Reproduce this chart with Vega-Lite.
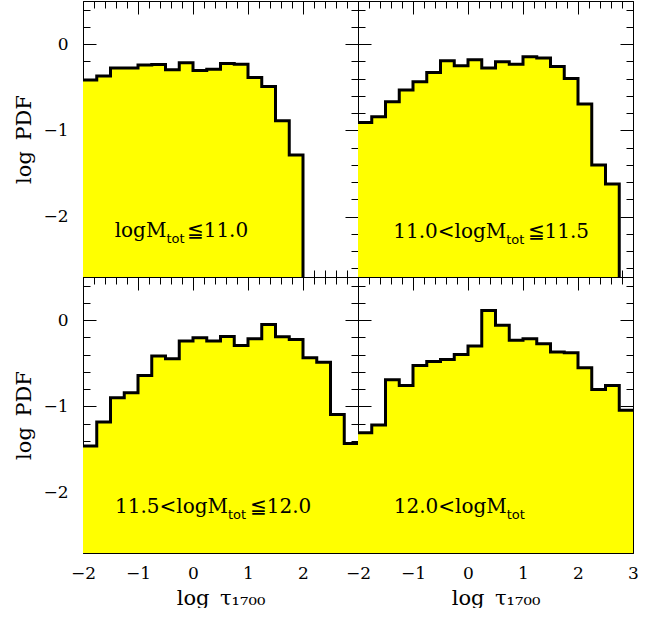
{
  "$schema": "https://vega.github.io/schema/vega-lite/v6.json",
  "autosize": {"type": "pad"},
  "padding": {"left": 13, "top": 0, "right": 0, "bottom": 0},
  "config": {
    "view": {"stroke": null},
    "axis": {
      "minExtent": 0, "zindex": 1, "grid": false, "domain": false,
      "labelFont": "DejaVu Serif", "labelFontSize": 17, "labelColor": "#000",
      "titleFont": "DejaVu Serif", "titleFontSize": 21, "titleFontWeight": "normal", "titleColor": "#000",
      "tickColor": "#000", "domainColor": "#000", "tickWidth": 1, "domainWidth": 1,
      "labelFlush": false, "labelOverlap": false, "labelBound": false
    }
  },
  "datasets": {
    "hist": [
      {"panel": "a", "x": -2, "y": -0.417}, {"panel": "a", "x": -1.75, "y": -0.37}, {"panel": "a", "x": -1.5, "y": -0.278}, {"panel": "a", "x": -1.25, "y": -0.278},
      {"panel": "a", "x": -1, "y": -0.243}, {"panel": "a", "x": -0.75, "y": -0.236}, {"panel": "a", "x": -0.5, "y": -0.298}, {"panel": "a", "x": -0.25, "y": -0.217},
      {"panel": "a", "x": 0, "y": -0.305}, {"panel": "a", "x": 0.25, "y": -0.29}, {"panel": "a", "x": 0.5, "y": -0.226}, {"panel": "a", "x": 0.75, "y": -0.233},
      {"panel": "a", "x": 1, "y": -0.387}, {"panel": "a", "x": 1.25, "y": -0.49}, {"panel": "a", "x": 1.5, "y": -0.889}, {"panel": "a", "x": 1.75, "y": -1.286},
      {"panel": "a", "x": 2, "y": -3},
      {"panel": "b", "x": -2, "y": -0.908}, {"panel": "b", "x": -1.75, "y": -0.842}, {"panel": "b", "x": -1.5, "y": -0.669}, {"panel": "b", "x": -1.25, "y": -0.533},
      {"panel": "b", "x": -1, "y": -0.437}, {"panel": "b", "x": -0.75, "y": -0.329}, {"panel": "b", "x": -0.5, "y": -0.193}, {"panel": "b", "x": -0.25, "y": -0.251},
      {"panel": "b", "x": 0, "y": -0.182}, {"panel": "b", "x": 0.25, "y": -0.278}, {"panel": "b", "x": 0.5, "y": -0.205}, {"panel": "b", "x": 0.75, "y": -0.232},
      {"panel": "b", "x": 1, "y": -0.147}, {"panel": "b", "x": 1.25, "y": -0.162}, {"panel": "b", "x": 1.5, "y": -0.259}, {"panel": "b", "x": 1.75, "y": -0.398},
      {"panel": "b", "x": 2, "y": -0.695}, {"panel": "b", "x": 2.25, "y": -1.402}, {"panel": "b", "x": 2.5, "y": -1.622}, {"panel": "b", "x": 2.75, "y": -3},
      {"panel": "c", "x": -2, "y": -1.46}, {"panel": "c", "x": -1.75, "y": -1.182}, {"panel": "c", "x": -1.5, "y": -0.9}, {"panel": "c", "x": -1.25, "y": -0.842},
      {"panel": "c", "x": -1, "y": -0.641}, {"panel": "c", "x": -0.75, "y": -0.417}, {"panel": "c", "x": -0.5, "y": -0.448}, {"panel": "c", "x": -0.25, "y": -0.243},
      {"panel": "c", "x": 0, "y": -0.205}, {"panel": "c", "x": 0.25, "y": -0.243}, {"panel": "c", "x": 0.5, "y": -0.189}, {"panel": "c", "x": 0.75, "y": -0.293},
      {"panel": "c", "x": 1, "y": -0.216}, {"panel": "c", "x": 1.25, "y": -0.05}, {"panel": "c", "x": 1.5, "y": -0.193}, {"panel": "c", "x": 1.75, "y": -0.224},
      {"panel": "c", "x": 2, "y": -0.436}, {"panel": "c", "x": 2.25, "y": -0.487}, {"panel": "c", "x": 2.5, "y": -1.093}, {"panel": "c", "x": 2.75, "y": -1.429},
      {"panel": "c", "x": 3, "y": -1.429},
      {"panel": "d", "x": -2, "y": -1.306}, {"panel": "d", "x": -1.75, "y": -1.217}, {"panel": "d", "x": -1.5, "y": -0.691}, {"panel": "d", "x": -1.25, "y": -0.757},
      {"panel": "d", "x": -1, "y": -0.525}, {"panel": "d", "x": -0.75, "y": -0.479}, {"panel": "d", "x": -0.5, "y": -0.456}, {"panel": "d", "x": -0.25, "y": -0.398},
      {"panel": "d", "x": 0, "y": -0.301}, {"panel": "d", "x": 0.25, "y": 0.112}, {"panel": "d", "x": 0.5, "y": -0.058}, {"panel": "d", "x": 0.75, "y": -0.232},
      {"panel": "d", "x": 1, "y": -0.216}, {"panel": "d", "x": 1.25, "y": -0.274}, {"panel": "d", "x": 1.5, "y": -0.371}, {"panel": "d", "x": 1.75, "y": -0.378},
      {"panel": "d", "x": 2, "y": -0.552}, {"panel": "d", "x": 2.25, "y": -0.803}, {"panel": "d", "x": 2.5, "y": -0.757}, {"panel": "d", "x": 2.75, "y": -1.046},
      {"panel": "d", "x": 3, "y": -1.046}
    ],
    "notes": [
      {"panel": "a", "pre": "logM", "sub": "tot", "post": "≦11.0"},
      {"panel": "b", "pre": "11.0<logM", "sub": "tot", "post": "≦11.5"},
      {"panel": "c", "pre": "11.5<logM", "sub": "tot", "post": "≦12.0"},
      {"panel": "d", "pre": "12.0<logM", "sub": "tot", "post": ""}
    ]
  },
  "columns": 2,
  "spacing": 0,
  "bounds": "flush",
  "concat": [
    {
      "width": 275, "height": 276,
      "data": {"name": "hist"},
      "transform": [{"filter": "datum.panel == 'a'"}],
      "layer": [
        {"mark": {"type": "area", "interpolate": "step-after", "color": "#ffff00", "clip": true},
         "encoding": {
           "x": {"field": "x", "type": "quantitative", "scale": {"domain": [-2, 3], "nice": false, "zero": false}, "axis": null},
           "y": {"field": "y", "type": "quantitative", "scale": {"domain": [-2.7, 0.5], "nice": false, "zero": false},
                 "axis": {"orient": "left", "values": [0, -1, -2], "ticks": false, "labelPadding": 15, "title": "log\u2002PDF", "titlePadding": 8}},
           "y2": {"datum": -2.7}}},
        {"mark": {"type": "line", "interpolate": "step-after", "color": "#000", "strokeWidth": 3, "clip": true, "strokeJoin": "miter"},
         "encoding": {
           "x": {"field": "x", "type": "quantitative", "axis": {"orient": "bottom", "values": [-2, -1, 0, 1, 2, 3], "labels": false, "tickSize": -13, "domain": true, "title": null}},
           "y": {"field": "y", "type": "quantitative", "axis": {"orient": "left", "values": [0, -1, -2], "labels": false, "tickSize": -13, "domain": true, "title": null}}}},
        {"mark": {"type": "point", "opacity": 0, "clip": true},
         "encoding": {
           "x": {"field": "x", "type": "quantitative", "axis": {"orient": "bottom", "values": [-2,-1.8,-1.6,-1.4,-1.2,-1,-0.8,-0.6,-0.4,-0.2,0,0.2,0.4,0.6,0.8,1,1.2,1.4,1.6,1.8,2,2.2,2.4,2.6,2.8,3], "labels": false, "tickSize": -7, "title": null}},
           "y": {"field": "y", "type": "quantitative", "axis": {"orient": "left", "values": [0.4,0.2,0,-0.2,-0.4,-0.6,-0.8,-1,-1.2,-1.4,-1.6,-1.8,-2,-2.2,-2.4,-2.6], "labels": false, "tickSize": -7, "title": null}}}},
        {"mark": {"type": "point", "opacity": 0, "clip": true},
         "encoding": {
           "x": {"field": "x", "type": "quantitative", "axis": {"orient": "top", "values": [-2, -1, 0, 1, 2, 3], "labels": false, "tickSize": -13, "domain": true, "title": null}},
           "y": {"field": "y", "type": "quantitative", "axis": {"orient": "right", "values": [0, -1, -2], "labels": false, "tickSize": -13, "domain": true, "title": null}}}},
        {"mark": {"type": "point", "opacity": 0, "clip": true},
         "encoding": {
           "x": {"field": "x", "type": "quantitative", "axis": {"orient": "top", "values": [-2,-1.8,-1.6,-1.4,-1.2,-1,-0.8,-0.6,-0.4,-0.2,0,0.2,0.4,0.6,0.8,1,1.2,1.4,1.6,1.8,2,2.2,2.4,2.6,2.8,3], "labels": false, "tickSize": -7, "title": null}},
           "y": {"field": "y", "type": "quantitative", "axis": {"orient": "right", "values": [0.4,0.2,0,-0.2,-0.4,-0.6,-0.8,-1,-1.2,-1.4,-1.6,-1.8,-2,-2.2,-2.4,-2.6], "labels": false, "tickSize": -7, "title": null}}}},
        {"data": {"name": "notes"}, "transform": [{"filter": "datum.panel == 'a'"}],
         "mark": {"type": "text", "font": "DejaVu Serif", "fontSize": 20, "align": "right", "baseline": "alphabetic", "color": "#000"},
         "encoding": {"x": {"datum": -0.484, "axis": null}, "y": {"datum": -2.241, "axis": null}, "text": {"field": "pre"}}},
        {"data": {"name": "notes"}, "transform": [{"filter": "datum.panel == 'a'"}],
         "mark": {"type": "text", "font": "DejaVu Sans", "fontSize": 13, "align": "left", "baseline": "alphabetic", "color": "#000"},
         "encoding": {"x": {"datum": -0.484, "axis": null}, "y": {"datum": -2.306, "axis": null}, "text": {"field": "sub"}}},
        {"data": {"name": "notes"}, "transform": [{"filter": "datum.panel == 'a'"}],
         "mark": {"type": "text", "font": "DejaVu Serif", "fontSize": 20, "align": "left", "baseline": "alphabetic", "color": "#000"},
         "encoding": {"x": {"datum": -0.115, "axis": null}, "y": {"datum": -2.241, "axis": null}, "text": {"field": "post"}}}
      ],
      "resolve": {"axis": {"x": "independent", "y": "independent"}}
    },
    {
      "width": 275, "height": 276,
      "data": {"name": "hist"},
      "transform": [{"filter": "datum.panel == 'b'"}],
      "layer": [
        {"mark": {"type": "area", "interpolate": "step-after", "color": "#ffff00", "clip": true},
         "encoding": {
           "x": {"field": "x", "type": "quantitative", "scale": {"domain": [-2, 3], "nice": false, "zero": false}, "axis": null},
           "y": {"field": "y", "type": "quantitative", "scale": {"domain": [-2.7, 0.5], "nice": false, "zero": false}, "axis": null},
           "y2": {"datum": -2.7}}},
        {"mark": {"type": "line", "interpolate": "step-after", "color": "#000", "strokeWidth": 3, "clip": true, "strokeJoin": "miter"},
         "encoding": {
           "x": {"field": "x", "type": "quantitative", "axis": {"orient": "bottom", "values": [-2, -1, 0, 1, 2, 3], "labels": false, "tickSize": -13, "domain": true, "title": null}},
           "y": {"field": "y", "type": "quantitative", "axis": {"orient": "left", "values": [0, -1, -2], "labels": false, "tickSize": -13, "domain": true, "title": null}}}},
        {"mark": {"type": "point", "opacity": 0, "clip": true},
         "encoding": {
           "x": {"field": "x", "type": "quantitative", "axis": {"orient": "bottom", "values": [-2,-1.8,-1.6,-1.4,-1.2,-1,-0.8,-0.6,-0.4,-0.2,0,0.2,0.4,0.6,0.8,1,1.2,1.4,1.6,1.8,2,2.2,2.4,2.6,2.8,3], "labels": false, "tickSize": -7, "title": null}},
           "y": {"field": "y", "type": "quantitative", "axis": {"orient": "left", "values": [0.4,0.2,0,-0.2,-0.4,-0.6,-0.8,-1,-1.2,-1.4,-1.6,-1.8,-2,-2.2,-2.4,-2.6], "labels": false, "tickSize": -7, "title": null}}}},
        {"mark": {"type": "point", "opacity": 0, "clip": true},
         "encoding": {
           "x": {"field": "x", "type": "quantitative", "axis": {"orient": "top", "values": [-2, -1, 0, 1, 2, 3], "labels": false, "tickSize": -13, "domain": true, "title": null}},
           "y": {"field": "y", "type": "quantitative", "axis": {"orient": "right", "values": [0, -1, -2], "labels": false, "tickSize": -13, "domain": true, "title": null}}}},
        {"mark": {"type": "point", "opacity": 0, "clip": true},
         "encoding": {
           "x": {"field": "x", "type": "quantitative", "axis": {"orient": "top", "values": [-2,-1.8,-1.6,-1.4,-1.2,-1,-0.8,-0.6,-0.4,-0.2,0,0.2,0.4,0.6,0.8,1,1.2,1.4,1.6,1.8,2,2.2,2.4,2.6,2.8,3], "labels": false, "tickSize": -7, "title": null}},
           "y": {"field": "y", "type": "quantitative", "axis": {"orient": "right", "values": [0.4,0.2,0,-0.2,-0.4,-0.6,-0.8,-1,-1.2,-1.4,-1.6,-1.8,-2,-2.2,-2.4,-2.6], "labels": false, "tickSize": -7, "title": null}}}},
        {"data": {"name": "notes"}, "transform": [{"filter": "datum.panel == 'b'"}],
         "mark": {"type": "text", "font": "DejaVu Serif", "fontSize": 20, "align": "right", "baseline": "alphabetic", "color": "#000"},
         "encoding": {"x": {"datum": 0.695, "axis": null}, "y": {"datum": -2.25, "axis": null}, "text": {"field": "pre"}}},
        {"data": {"name": "notes"}, "transform": [{"filter": "datum.panel == 'b'"}],
         "mark": {"type": "text", "font": "DejaVu Sans", "fontSize": 13, "align": "left", "baseline": "alphabetic", "color": "#000"},
         "encoding": {"x": {"datum": 0.695, "axis": null}, "y": {"datum": -2.315, "axis": null}, "text": {"field": "sub"}}},
        {"data": {"name": "notes"}, "transform": [{"filter": "datum.panel == 'b'"}],
         "mark": {"type": "text", "font": "DejaVu Serif", "fontSize": 20, "align": "left", "baseline": "alphabetic", "color": "#000"},
         "encoding": {"x": {"datum": 1.082, "axis": null}, "y": {"datum": -2.25, "axis": null}, "text": {"field": "post"}}}
      ],
      "resolve": {"axis": {"x": "independent", "y": "independent"}}
    },
    {
      "width": 275, "height": 276,
      "data": {"name": "hist"},
      "transform": [{"filter": "datum.panel == 'c'"}],
      "layer": [
        {"mark": {"type": "area", "interpolate": "step-after", "color": "#ffff00", "clip": true},
         "encoding": {
           "x": {"field": "x", "type": "quantitative", "scale": {"domain": [-2, 3], "nice": false, "zero": false},
                 "axis": {"orient": "bottom", "values": [-2, -1, 0, 1, 2], "ticks": false, "labelPadding": 12, "title": "log\u2002τ₁₇₀₀", "titlePadding": 6}},
           "y": {"field": "y", "type": "quantitative", "scale": {"domain": [-2.7, 0.5], "nice": false, "zero": false},
                 "axis": {"orient": "left", "values": [0, -1, -2], "ticks": false, "labelPadding": 15, "title": "log\u2002PDF", "titlePadding": 8}},
           "y2": {"datum": -2.7}}},
        {"mark": {"type": "line", "interpolate": "step-after", "color": "#000", "strokeWidth": 3, "clip": true, "strokeJoin": "miter"},
         "encoding": {
           "x": {"field": "x", "type": "quantitative", "axis": {"orient": "bottom", "values": [-2, -1, 0, 1, 2, 3], "labels": false, "tickSize": -13, "domain": true, "title": null}},
           "y": {"field": "y", "type": "quantitative", "axis": {"orient": "left", "values": [0, -1, -2], "labels": false, "tickSize": -13, "domain": true, "title": null}}}},
        {"mark": {"type": "point", "opacity": 0, "clip": true},
         "encoding": {
           "x": {"field": "x", "type": "quantitative", "axis": {"orient": "bottom", "values": [-2,-1.8,-1.6,-1.4,-1.2,-1,-0.8,-0.6,-0.4,-0.2,0,0.2,0.4,0.6,0.8,1,1.2,1.4,1.6,1.8,2,2.2,2.4,2.6,2.8,3], "labels": false, "tickSize": -7, "title": null}},
           "y": {"field": "y", "type": "quantitative", "axis": {"orient": "left", "values": [0.4,0.2,0,-0.2,-0.4,-0.6,-0.8,-1,-1.2,-1.4,-1.6,-1.8,-2,-2.2,-2.4,-2.6], "labels": false, "tickSize": -7, "title": null}}}},
        {"mark": {"type": "point", "opacity": 0, "clip": true},
         "encoding": {
           "x": {"field": "x", "type": "quantitative", "axis": {"orient": "top", "values": [-2, -1, 0, 1, 2, 3], "labels": false, "tickSize": -13, "domain": true, "title": null}},
           "y": {"field": "y", "type": "quantitative", "axis": {"orient": "right", "values": [0, -1, -2], "labels": false, "tickSize": -13, "domain": true, "title": null}}}},
        {"mark": {"type": "point", "opacity": 0, "clip": true},
         "encoding": {
           "x": {"field": "x", "type": "quantitative", "axis": {"orient": "top", "values": [-2,-1.8,-1.6,-1.4,-1.2,-1,-0.8,-0.6,-0.4,-0.2,0,0.2,0.4,0.6,0.8,1,1.2,1.4,1.6,1.8,2,2.2,2.4,2.6,2.8,3], "labels": false, "tickSize": -7, "title": null}},
           "y": {"field": "y", "type": "quantitative", "axis": {"orient": "right", "values": [0.4,0.2,0,-0.2,-0.4,-0.6,-0.8,-1,-1.2,-1.4,-1.6,-1.8,-2,-2.2,-2.4,-2.6], "labels": false, "tickSize": -7, "title": null}}}},
        {"data": {"name": "notes"}, "transform": [{"filter": "datum.panel == 'c'"}],
         "mark": {"type": "text", "font": "DejaVu Serif", "fontSize": 20, "align": "right", "baseline": "alphabetic", "color": "#000"},
         "encoding": {"x": {"datum": 0.636, "axis": null}, "y": {"datum": -2.236, "axis": null}, "text": {"field": "pre"}}},
        {"data": {"name": "notes"}, "transform": [{"filter": "datum.panel == 'c'"}],
         "mark": {"type": "text", "font": "DejaVu Sans", "fontSize": 13, "align": "left", "baseline": "alphabetic", "color": "#000"},
         "encoding": {"x": {"datum": 0.636, "axis": null}, "y": {"datum": -2.301, "axis": null}, "text": {"field": "sub"}}},
        {"data": {"name": "notes"}, "transform": [{"filter": "datum.panel == 'c'"}],
         "mark": {"type": "text", "font": "DejaVu Serif", "fontSize": 20, "align": "left", "baseline": "alphabetic", "color": "#000"},
         "encoding": {"x": {"datum": 1.031, "axis": null}, "y": {"datum": -2.236, "axis": null}, "text": {"field": "post"}}}
      ],
      "resolve": {"axis": {"x": "independent", "y": "independent"}}
    },
    {
      "width": 275, "height": 276,
      "data": {"name": "hist"},
      "transform": [{"filter": "datum.panel == 'd'"}],
      "layer": [
        {"mark": {"type": "area", "interpolate": "step-after", "color": "#ffff00", "clip": true},
         "encoding": {
           "x": {"field": "x", "type": "quantitative", "scale": {"domain": [-2, 3], "nice": false, "zero": false},
                 "axis": {"orient": "bottom", "values": [-2, -1, 0, 1, 2, 3], "ticks": false, "labelPadding": 12, "title": "log\u2002τ₁₇₀₀", "titlePadding": 6}},
           "y": {"field": "y", "type": "quantitative", "scale": {"domain": [-2.7, 0.5], "nice": false, "zero": false}, "axis": null},
           "y2": {"datum": -2.7}}},
        {"mark": {"type": "line", "interpolate": "step-after", "color": "#000", "strokeWidth": 3, "clip": true, "strokeJoin": "miter"},
         "encoding": {
           "x": {"field": "x", "type": "quantitative", "axis": {"orient": "bottom", "values": [-2, -1, 0, 1, 2, 3], "labels": false, "tickSize": -13, "domain": true, "title": null}},
           "y": {"field": "y", "type": "quantitative", "axis": {"orient": "left", "values": [0, -1, -2], "labels": false, "tickSize": -13, "domain": true, "title": null}}}},
        {"mark": {"type": "point", "opacity": 0, "clip": true},
         "encoding": {
           "x": {"field": "x", "type": "quantitative", "axis": {"orient": "bottom", "values": [-2,-1.8,-1.6,-1.4,-1.2,-1,-0.8,-0.6,-0.4,-0.2,0,0.2,0.4,0.6,0.8,1,1.2,1.4,1.6,1.8,2,2.2,2.4,2.6,2.8,3], "labels": false, "tickSize": -7, "title": null}},
           "y": {"field": "y", "type": "quantitative", "axis": {"orient": "left", "values": [0.4,0.2,0,-0.2,-0.4,-0.6,-0.8,-1,-1.2,-1.4,-1.6,-1.8,-2,-2.2,-2.4,-2.6], "labels": false, "tickSize": -7, "title": null}}}},
        {"mark": {"type": "point", "opacity": 0, "clip": true},
         "encoding": {
           "x": {"field": "x", "type": "quantitative", "axis": {"orient": "top", "values": [-2, -1, 0, 1, 2, 3], "labels": false, "tickSize": -13, "domain": true, "title": null}},
           "y": {"field": "y", "type": "quantitative", "axis": {"orient": "right", "values": [0, -1, -2], "labels": false, "tickSize": -13, "domain": true, "title": null}}}},
        {"mark": {"type": "point", "opacity": 0, "clip": true},
         "encoding": {
           "x": {"field": "x", "type": "quantitative", "axis": {"orient": "top", "values": [-2,-1.8,-1.6,-1.4,-1.2,-1,-0.8,-0.6,-0.4,-0.2,0,0.2,0.4,0.6,0.8,1,1.2,1.4,1.6,1.8,2,2.2,2.4,2.6,2.8,3], "labels": false, "tickSize": -7, "title": null}},
           "y": {"field": "y", "type": "quantitative", "axis": {"orient": "right", "values": [0.4,0.2,0,-0.2,-0.4,-0.6,-0.8,-1,-1.2,-1.4,-1.6,-1.8,-2,-2.2,-2.4,-2.6], "labels": false, "tickSize": -7, "title": null}}}},
        {"data": {"name": "notes"}, "transform": [{"filter": "datum.panel == 'd'"}],
         "mark": {"type": "text", "font": "DejaVu Serif", "fontSize": 20, "align": "right", "baseline": "alphabetic", "color": "#000"},
         "encoding": {"x": {"datum": 0.705, "axis": null}, "y": {"datum": -2.236, "axis": null}, "text": {"field": "pre"}}},
        {"data": {"name": "notes"}, "transform": [{"filter": "datum.panel == 'd'"}],
         "mark": {"type": "text", "font": "DejaVu Sans", "fontSize": 13, "align": "left", "baseline": "alphabetic", "color": "#000"},
         "encoding": {"x": {"datum": 0.705, "axis": null}, "y": {"datum": -2.301, "axis": null}, "text": {"field": "sub"}}}
      ],
      "resolve": {"axis": {"x": "independent", "y": "independent"}}
    }
  ]
}
